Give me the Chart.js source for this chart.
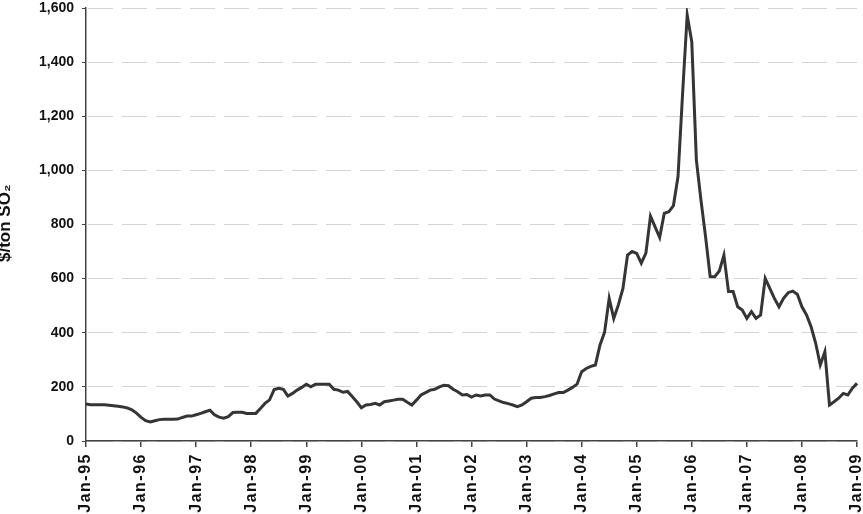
<!DOCTYPE html>
<html>
<head>
<meta charset="utf-8">
<script src="https://cdn.jsdelivr.net/npm/chart.js@4.4.1/dist/chart.umd.min.js"></script>
<style>
  html, body { margin: 0; padding: 0; background: #fff; }
  #wrap { width: 863px; height: 514px; }
</style>
</head>
<body>
<div id="wrap"><canvas id="priceChart" width="863" height="514"></canvas></div>
<script>
// monthly SO2 allowance price, Jan-95 .. Jan-09
var monthNames = ['Jan', 'Feb', 'Mar', 'Apr', 'May', 'Jun', 'Jul', 'Aug', 'Sep', 'Oct', 'Nov', 'Dec'];
var yearCodes = ['95', '96', '97', '98', '99', '00', '01', '02', '03', '04', '05', '06', '07', '08', '09'];

var prices = [
    137, 134, 134, 134, 134, 132, 130, 128, 126, 122, 115, 103,   // 1995
    87, 75, 70, 75, 79, 80, 80, 80, 81, 87, 92, 92,               // 1996
    97, 102, 108, 114, 97, 88, 84, 90, 105, 106, 106, 102,        // 1997
    102, 102, 120, 139, 152, 190, 195, 191, 166, 176, 188, 198,   // 1998
    210, 200, 210, 210, 210, 210, 191, 188, 180, 183, 164, 145,   // 1999
    123, 133, 135, 139, 133, 145, 148, 151, 154, 154, 143, 133,   // 2000
    151, 170, 179, 188, 191, 200, 206, 204, 191, 182, 170, 172,   // 2001
    162, 170, 166, 170, 170, 155, 148, 142, 138, 133, 127, 133,   // 2002
    145, 158, 161, 161, 164, 168, 174, 179, 179, 188, 198, 210,   // 2003
    256, 268, 276, 281, 355, 402, 527, 453, 503, 564, 687, 700,   // 2004
    693, 657, 694, 831, 791, 752, 841, 847, 870, 977, 1285, 1574, // 2005
    1475, 1038, 890, 755, 608, 607, 628, 687, 552, 552, 496, 484, // 2006
    453, 478, 453, 466, 601, 564, 527, 496, 527, 548, 554, 542,   // 2007
    496, 466, 422, 361, 281, 330, 133, 145, 158, 176, 170, 195,   // 2008
    213                                                           // Jan 2009
];

var yTicks = [0, 200, 400, 600, 800, 1000, 1200, 1400, 1600];
var yTitle = '$/ton SO\u2082';

var labels = [];
for (var i = 0; i < prices.length; i++) {
    labels.push(monthNames[i % 12] + '-' + yearCodes[Math.floor(i / 12)]);
}

var fontFamily = '"Liberation Sans", Arial, sans-serif';

// dashed look for the horizontal grid lines (border.dash did not take here)
function dashPattern() {
    var c = document.createElement('canvas');
    c.width = 34;
    c.height = 1;
    var g = c.getContext('2d');
    g.fillStyle = '#d4d4d4';
    g.fillRect(0, 0, 11, 1);
    g.fillRect(20, 0, 14, 1);
    return g.createPattern(c, 'repeat');
}

// y title sits partly off the left edge, like the original
var yTitlePlugin = {
    id: 'yTitle',
    afterDraw: function (chart) {
        var ctx = chart.ctx;
        ctx.save();
        ctx.translate(10, 262);
        ctx.rotate(-Math.PI / 2);
        ctx.font = 'bold 17px ' + fontFamily;
        ctx.fillStyle = '#111';
        ctx.textAlign = 'left';
        ctx.textBaseline = 'alphabetic';
        ctx.fillText(yTitle, 0, 0);
        ctx.restore();
    }
};

var ctx = document.getElementById('priceChart').getContext('2d');
var gridDash = dashPattern();

var chart = new Chart(ctx, {
    type: 'line',
    data: {
        labels: labels,
        datasets: [{
            data: prices,
            borderColor: '#353535',
            borderWidth: 3,
            pointRadius: 0,
            tension: 0,
            fill: false
        }]
    },
    options: {
        responsive: false,
        animation: false,
        layout: { padding: 0 },
        plugins: {
            legend: { display: false },
            tooltip: { enabled: false }
        },
        scales: {
            x: {
                type: 'category',
                offset: false,
                grid: {
                    drawOnChartArea: false,
                    drawTicks: true,
                    tickLength: 6,
                    color: function (c) { return c.index % 12 === 0 ? '#444' : 'transparent'; },
                    lineWidth: 1.5
                },
                border: { display: true, color: '#444', width: 1.5 },
                ticks: {
                    autoSkip: false,
                    minRotation: 90,
                    maxRotation: 90,
                    padding: 6,
                    color: '#111',
                    font: { family: fontFamily, size: 16, weight: 'bold' },
                    callback: function (val, idx) {
                        return idx % 12 === 0 ? labels[idx] : '';
                    }
                },
                afterFit: function (s) {
                    s.height = 73;
                    s.paddingLeft = 0;
                    s.paddingRight = 6;
                    // the original's date labels are letter-spaced
                    if (!s._spaced) {
                        var orig = s.drawLabels;
                        s.drawLabels = function (area) {
                            this.ctx.save();
                            this.ctx.letterSpacing = '1.5px';
                            orig.call(this, area);
                            this.ctx.restore();
                        };
                        s._spaced = true;
                    }
                }
            },
            y: {
                min: 0,
                max: 1600,
                afterBuildTicks: function (s) {
                    s.ticks = yTicks.map(function (v) { return { value: v }; });
                },
                grid: {
                    color: gridDash,
                    lineWidth: 1,
                    drawTicks: true,
                    tickLength: 4,
                    tickColor: '#444'
                },
                border: { display: true, color: '#444', width: 1.5 },
                ticks: {
                    padding: 8,
                    color: '#111',
                    font: { family: fontFamily, size: 14, weight: 'bold' },
                    callback: function (v) { return v.toLocaleString('en-US'); }
                },
                afterFit: function (s) {
                    s.width = 86;
                    s.paddingTop = 8;
                }
            }
        }
    },
    plugins: [yTitlePlugin]
});
</script>
</body>
</html>
